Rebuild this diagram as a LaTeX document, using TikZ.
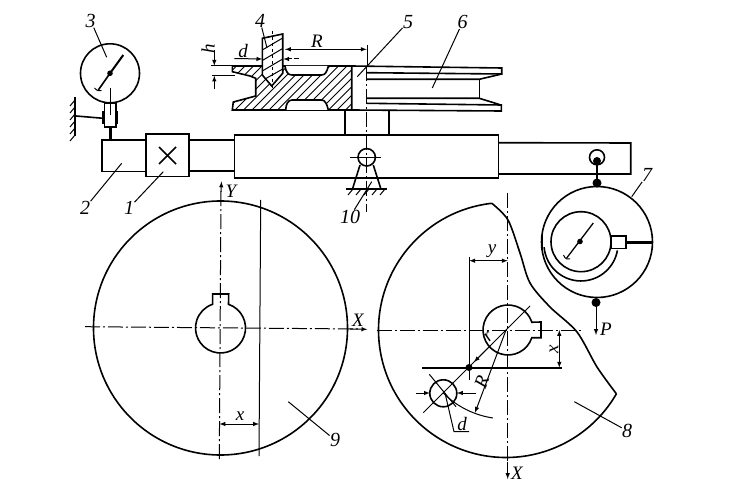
\documentclass[tikz,border=0pt]{standalone}
\usepackage{fontspec}
\setmainfont{Liberation Serif}
\tikzset{
  >=latex,
  mainline/.style={line width=1.6pt},
  thinline/.style={line width=1pt},
  axisline/.style={line width=1pt,dash pattern=on 15pt off 3pt on 2pt off 3pt},
  leader/.style={line width=1pt,shorten <=-1pt},
  callout/.style={font=\fontsize{20}{20}\selectfont\itshape,inner sep=1pt},
  dimtext/.style={font=\fontsize{19}{19}\selectfont\itshape,inner sep=0pt},
  joint/.style={fill=black,draw=none}
}
\begin{document}
\begin{tikzpicture}[x=1pt,y=-1pt]
  \useasboundingbox (0,0) rectangle (733,486);

  % Hatching of the wheel section
  \begin{scope}
    \clip (232.3,66) -- (232.3,71.7) -- (250,76) -- (255.7,78.3) -- (255.7,96) -- (233.3,102) -- (232.3,110) -- (351.7,110) -- (351.7,66) -- cycle;
    \foreach \hx in {180,188.5,...,356}
      \draw[line width=0.8pt] (\hx,114) -- ++(55,-55);
  \end{scope}
  % Outline of the wheel section
  \draw[mainline] (232.3,66) -- (232.3,71.7) -- (250,76) -- (255.7,78.3) -- (255.7,96) -- (233.3,102) -- (232.3,110) -- (351.7,110) -- (351.7,66) -- cycle;
  \draw[mainline,fill=white] (285,66) .. controls (286,72) and (288,75) .. (292,75) -- (321.7,75) .. controls (325,75) and (327,72) .. (328.3,66);
  \draw[mainline,fill=white] (285.7,110) .. controls (286,104) and (288,100) .. (292,100) -- (321.7,100) .. controls (325,100) and (327,104) .. (328.3,110);

  % Right half of the wheel
  \draw[mainline] (351.7,66) -- (501.7,68) -- (501.7,74) -- (367,72.7);
  \draw[mainline] (501.7,74) -- (479.3,79.3) -- (367,79.3);
  \draw[mainline] (479.3,79.3) -- (479.3,98.3);
  \draw[mainline] (367,98.3) -- (479.3,98.3) -- (499.3,104.5);
  \draw[mainline] (367,103.3) -- (501.3,105) -- (501.3,111) -- (351.7,110);

  % Post under the wheel
  \draw[mainline] (345,110) -- (345,136);
  \draw[mainline] (389,110) -- (389,136);

  % Drill
  \draw[mainline,fill=white] (262.3,38.3) -- (282.7,34) -- (282.7,73.3) -- (271.7,86) -- (262.3,75) -- cycle;
  \foreach \dy in {50,60.5,71}
    \draw[thinline] (262.3,\dy) -- ++(20.4,-12);
  \draw[thinline] (265,79) -- (282.7,69);
  \draw[thinline,dashed] (272.3,30.7) -- (272.3,88);

  % Lever
  \draw[mainline] (234.3,135) rectangle (498.3,178);
  \draw[mainline] (498.3,142.7) -- (630.7,143) -- (630.7,174) -- (498.3,174);
  \draw[mainline] (188.7,140) -- (234.3,140);
  \draw[mainline] (188.7,171) -- (234.3,171);
  \draw[mainline,fill=white] (146,134) rectangle (188.7,176.7);
  \draw[mainline] (101.7,140) rectangle (146,171.7);
  \draw[mainline] (159,147) -- (176,164);
  \draw[mainline] (176,147) -- (159,164);

  % Dial gauge 3
  \draw[mainline] (110,73.3) circle (29.5);
  \fill[joint] (110,73.3) circle (2.8);
  \draw[line width=2pt] (110,73.3) -- (123.3,55);
  \draw[mainline] (110,73.3) -- (98.3,90);
  \draw[thinline] (94.5,88) .. controls (97,91) and (99,91) .. (101.5,90.5);
  \draw[thinline] (110.7,88.3) -- (110.7,115);
  \draw[mainline] (104.3,103) rectangle (116,127.3);
  \draw[line width=2.2pt] (103.5,111) -- (103.5,124);
  \draw[line width=2.2pt] (117,111) -- (117,124);
  \draw[line width=3.2pt] (110.7,127.3) -- (110.7,140);
  \draw[mainline] (76,116) -- (103.3,118.3);
  \draw[mainline] (75,97) -- (75,136.5);
  \foreach \wy in {100,107,...,135}
    \draw[thinline] (75,\wy) -- ++(-5,6);

  % Pivot 10
  \draw[mainline] (366.7,157.3) circle (8.7);
  \draw[mainline] (360,165) -- (352.7,188.3);
  \draw[mainline] (373.3,165) -- (380.7,188.3);
  \draw[mainline] (346,189) -- (387.3,189);
  \foreach \gx in {353,361,...,385}
    \draw[thinline] (\gx,189) -- ++(-5,6);
  \draw[thinline] (350,157.3) -- (380.7,157.3);
  \draw[axisline] (366.7,66) -- (366.7,212);

  % Loading ring 7
  \draw[mainline] (597,242) circle (55.5);
  \draw[mainline] (581,241.7) circle (30);
  \draw[mainline] (544.1,247.2) arc (175:10:37);
  \draw[line width=2.2pt] (542,235) -- (542,250);
  \fill[joint] (580,241.5) circle (2.8);
  \draw[line width=1.3pt] (566.7,258) -- (593.3,223);
  \draw[thinline] (563.5,255) .. controls (565,259) and (568,260) .. (570,259);
  \draw[mainline,fill=white] (611,236) rectangle (625.7,248.5);
  \draw[line width=2.8pt] (625.7,242.7) -- (652,242.7);
  \draw[mainline] (597,157.3) circle (7.5);
  \fill[joint] (597,161) circle (4);
  \draw[mainline] (597,161) -- (597,183);
  \fill[joint] (597,183) circle (4.5);
  \fill[joint] (596,302.5) circle (4.5);
  \draw[thinline,->] (596,302.5) -- (596,335);
  \node[dimtext] (loadp) at (606,329) {P};

  % Disc 9
  \draw[mainline] (220.5,328) circle (127);
  \draw[mainline] (228.5,304.3) arc (288.6:611.4:25) -- (212.7,294) -- (228.7,294) -- cycle;
  \draw[axisline] (219.3,459) -- (221,190);
  \draw[thinline,->] (221,192) -- (221.5,181.5);
  \draw[axisline] (85,326.7) -- (358,329);
  \draw[thinline,->] (350,329) -- (367.3,329.3);
  \draw[thinline] (260.7,200) -- (259,456);
  \draw[thinline,<->] (219.5,424) -- (259,424);
  \node[dimtext] (axisy) at (231,191) {Y};
  \node[dimtext] (axisx) at (358,320) {X};
  \node[dimtext] (distx) at (240,416) {x};

  % Disc 8 with the broken edge
  \draw[mainline] (491.8,203.3) arc (263.6:30:127.5);
  \draw[mainline] plot[smooth] coordinates {(491.8,203.3) (508,220) (520,253) (530,283) (550,307) (577,332) (597,367) (616.4,393.8)};
  \draw[mainline] (531.8,337.7) arc (18:342:25) -- (541,322) -- (541,337.7) -- cycle;
  \draw[axisline] (376.7,330) -- (583,330);
  \draw[axisline] (507.7,193) -- (507.7,472);
  \draw[thinline,->] (507.7,462) -- (507.7,479);
  \node[dimtext] (axisxb) at (517,473) {X};

  % Dimensions on disc 8
  \draw[thinline] (469.3,256.7) -- (469.3,380);
  \draw[thinline,<->] (469.3,260.7) -- (507.7,260.7);
  \node[dimtext] (disty) at (492,251) {y};
  \draw[mainline] (422.3,367.7) -- (561.7,367.7);
  \draw[thinline,<->] (559.3,330) -- (559.3,367.7);
  \node[dimtext,rotate=90] (distxb) at (554,349) {x};
  \fill[joint] (469,367.5) circle (3.5);
  \draw[thinline] (530,306) -- (423.3,412.7);
  \draw[thinline,->] (490,346) -- (474,362);
  \node[dimtext,rotate=45] (radr) at (488.5,337) {r};
  \draw[mainline] (443.3,393.3) circle (13.5);
  \draw[thinline] (429.3,374.3) -- (456,406.7);
  \draw[thinline,->] (416,393) -- (429.8,393);
  \draw[thinline,->] (476,393) -- (457,393);
  \draw[thinline] (443.1,392.9) arc (135:98.5:89);
  \draw[thinline,->] (506,330) -- (475,412.7);
  \node[dimtext,rotate=70] (radR) at (481.7,382) {R};
  \draw[thinline] (445,393) -- (454,431.7) -- (469,431.7);
  \node[dimtext] (diad) at (462,424) {d};

  % Dimensions on the wheel section
  \draw[thinline,<->] (285,49.3) -- (366.7,49.3);
  \draw[thinline] (367.7,45) -- (367.7,65);
  \node[dimtext] (topR) at (317,41) {R};
  \draw[thinline,->] (234.3,58.5) -- (262.3,59);
  \draw[thinline,->] (292,59) -- (283.3,59);
  \draw[thinline] (294,59) -- (299.3,59);
  \node[dimtext] (topd) at (243,51) {d};
  \draw[thinline] (211,65.7) -- (232,65.7);
  \draw[thinline] (211.7,75.7) -- (235,75.7);
  \draw[thinline,->] (214.3,50) -- (214.3,65.7);
  \draw[thinline,->] (214.3,89.3) -- (214.3,75.7);
  \node[dimtext,rotate=90] (toph) at (208,49) {h};

  % Numbered leaders
  \foreach \nm/\lx/\ly/\tx/\ty in {1/129/208/163.3/171.7,2/85/208/121.7/163.3,3/90.7/20.7/106.7/57.3,
      4/260/20.7/267/48,5/408/22/357.3/76.7,6/462.7/22/432.3/88,7/647/175/631.7/196.7,
      8/627/430.7/574.3/401.7,9/335/440/288.3/401.7,10/350/216.7/371.7/181.7} {
    \node[callout] (num\nm) at (\lx,\ly) {\nm};
    \coordinate (tip\nm) at (\tx,\ty);
    \draw[leader] (num\nm) -- (tip\nm);
  }
\end{tikzpicture}
\end{document}
